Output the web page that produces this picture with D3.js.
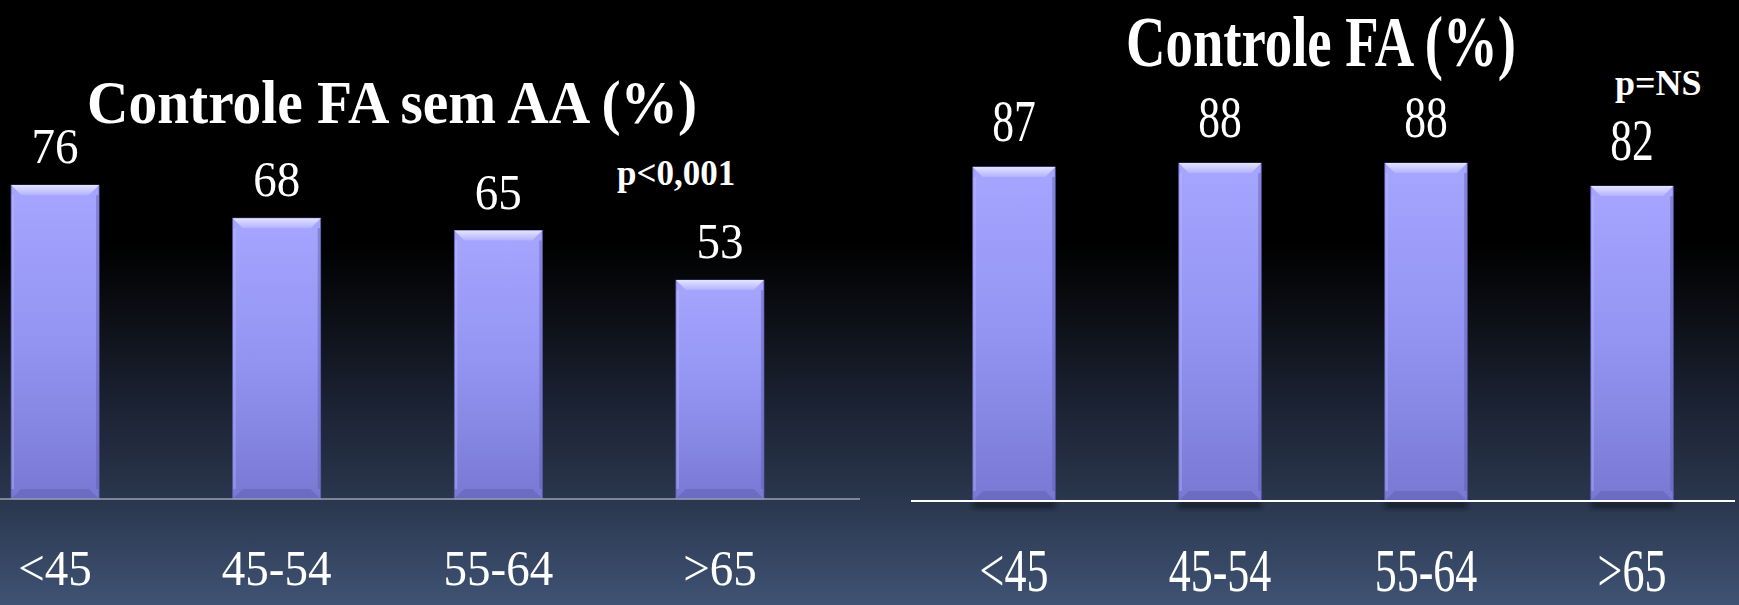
<!DOCTYPE html>
<html>
<head>
<meta charset="utf-8">
<script src="https://cdn.jsdelivr.net/npm/d3@7"></script>
<style>
  html, body { margin: 0; padding: 0; background: #000; }
  svg { display: block; }
  text { font-family: "Liberation Serif", "Times New Roman", serif; fill: #fff; }
</style>
</head>
<body>
<svg id="chart" width="1739" height="605"></svg>
<script>
// Age groups and control rates (%)
const ageGroups = ["<45", "45-54", "55-64", ">65"];
const controlWithoutAA = [76, 68, 65, 53];
const controlAF = [87, 88, 88, 82];
const titles = ["Controle FA sem AA (%)", "Controle FA (%)"];
const pValues = ["p<0,001", "p=NS"];

const W = 1739, H = 605;
const svg = d3.select("#chart");
const defs = svg.append("defs");

// Background: black fading into slate blue towards the bottom
const bg = defs.append("linearGradient").attr("id", "bg")
  .attr("x1", 0).attr("y1", 0).attr("x2", 0).attr("y2", 1);
[[0, "#000000"], [0.40, "#000000"], [0.50, "#0a0c11"], [0.66, "#1a2131"],
 [0.83, "#2b374e"], [1, "#3f5374"]].forEach(([o, c]) =>
  bg.append("stop").attr("offset", o).attr("stop-color", c));
svg.append("rect").attr("width", W).attr("height", H).attr("fill", "url(#bg)");

// Bar body and bevel gradients
const body = defs.append("linearGradient").attr("id", "barBody")
  .attr("x1", 0).attr("y1", 0).attr("x2", 0).attr("y2", 1);
body.append("stop").attr("offset", 0).attr("stop-color", "#a6a6ff");
body.append("stop").attr("offset", 0.5).attr("stop-color", "#9393f2");
body.append("stop").attr("offset", 1).attr("stop-color", "#7979d4");
const bevel = defs.append("linearGradient").attr("id", "barBevel")
  .attr("x1", 0).attr("y1", 0).attr("x2", 0).attr("y2", 1);
bevel.append("stop").attr("offset", 0).attr("stop-color", "#e4e4ff");
bevel.append("stop").attr("offset", 1).attr("stop-color", "#b2b2ff");
defs.append("filter").attr("id", "soft").attr("x", "-20%").attr("y", "-50%")
  .attr("width", "140%").attr("height", "200%")
  .append("feGaussianBlur").attr("stdDeviation", 2.5);

function drawBars(g, x, y, values, cfg) {
  const bw = x.bandwidth();
  const base = y(0);
  const bars = g.selectAll("g.bar").data(values).join("g").attr("class", "bar");

  if (cfg.shadow) {
    bars.append("rect")
      .attr("x", (d, i) => x(ageGroups[i]))
      .attr("y", base).attr("width", bw).attr("height", 7)
      .attr("fill", "#0c1220").attr("opacity", 0.7).attr("filter", "url(#soft)");
  }

  bars.append("rect")
    .attr("x", (d, i) => x(ageGroups[i]))
    .attr("y", d => y(d))
    .attr("width", bw)
    .attr("height", d => base - y(d))
    .attr("fill", "url(#barBody)")
    .attr("stroke", "#5f5fb4").attr("stroke-width", 0.8);

  const b = 10;
  // top bevel
  bars.append("path")
    .attr("d", (d, i) => {
      const x0 = x(ageGroups[i]), t = y(d);
      return `M${x0},${t}H${x0 + bw}L${x0 + bw - b},${t + b}H${x0 + b}Z`;
    })
    .attr("fill", "url(#barBevel)");
  // side edges
  bars.append("rect")
    .attr("x", (d, i) => x(ageGroups[i]) + 0.5).attr("y", d => y(d) + b)
    .attr("width", 2.5).attr("height", d => base - y(d) - 2 * b)
    .attr("fill", "#c4c4ff").attr("opacity", 0.35);
  bars.append("rect")
    .attr("x", (d, i) => x(ageGroups[i]) + bw - 3).attr("y", d => y(d) + b)
    .attr("width", 2.5).attr("height", d => base - y(d) - 2 * b)
    .attr("fill", "#5a5aa8").attr("opacity", 0.45);
  // bottom bevel
  bars.append("path")
    .attr("d", (d, i) => {
      const x0 = x(ageGroups[i]);
      return `M${x0 + b},${base - b}H${x0 + bw - b}L${x0 + bw},${base}H${x0}Z`;
    })
    .attr("fill", "#6161b4").attr("opacity", 0.55);

  // baseline
  g.append("line")
    .attr("x1", cfg.lineX[0]).attr("x2", cfg.lineX[1])
    .attr("y1", base).attr("y2", base)
    .attr("stroke", cfg.lineColor).attr("stroke-width", cfg.lineWidth);

  // value labels
  g.selectAll("text.value").data(values).join("text").attr("class", "value")
    .attr("transform", (d, i) =>
      `translate(${x(ageGroups[i]) + bw / 2},${y(d) - cfg.labelGap}) scale(1,${cfg.stretch})`)
    .attr("text-anchor", "middle")
    .attr("font-size", cfg.valueSize)
    .text(d => d);

  // category labels
  g.selectAll("text.cat").data(ageGroups).join("text").attr("class", "cat")
    .attr("transform", d =>
      `translate(${x(d) + bw / 2},${cfg.catY}) scale(1,${cfg.stretch})`)
    .attr("text-anchor", "middle")
    .attr("font-size", cfg.catSize)
    .text(d => d);

  // title
  g.append("text")
    .attr("transform", `translate(${cfg.titleX},${cfg.titleY}) scale(1,${cfg.titleStretch})`)
    .attr("text-anchor", "middle")
    .attr("font-size", cfg.titleSize).attr("font-weight", "bold")
    .text(cfg.title);

  // significance
  g.append("text")
    .attr("x", cfg.pX).attr("y", cfg.pY)
    .attr("font-size", cfg.pSize).attr("font-weight", "bold")
    .text(cfg.p);
}

// Left panel: control without antiarrhythmics
const xL = d3.scaleBand().domain(ageGroups).range([0, 775])
  .paddingInner(0.603).paddingOuter(0.05);
const yL = d3.scaleLinear().domain([0, 100]).range([499, 86]);
drawBars(svg.append("g"), xL, yL, controlWithoutAA, {
  shadow: false, lineX: [0, 860], lineColor: "#9aa1b0", lineWidth: 1.5,
  labelGap: 22, stretch: 1.06, valueSize: 47, catY: 585, catSize: 47,
  title: titles[0], titleX: 392, titleY: 123, titleSize: 57.4, titleStretch: 1.05,
  p: pValues[0], pX: 617, pY: 185, pSize: 35
});

// Right panel: overall control
const xR = d3.scaleBand().domain(ageGroups).range([911, 1735])
  .paddingInner(0.6).paddingOuter(0.3);
const yR = d3.scaleLinear().domain([0, 100]).range([501, 117]);
drawBars(svg.append("g"), xR, yR, controlAF, {
  shadow: true, lineX: [911, 1735], lineColor: "#ffffff", lineWidth: 1.8,
  labelGap: 26, stretch: 1.37, valueSize: 43.5, catY: 591, catSize: 44,
  title: titles[1], titleX: 1321, titleY: 66, titleSize: 54.7, titleStretch: 1.33,
  p: pValues[1], pX: 1615, pY: 95, pSize: 36
});
</script>
</body>
</html>
